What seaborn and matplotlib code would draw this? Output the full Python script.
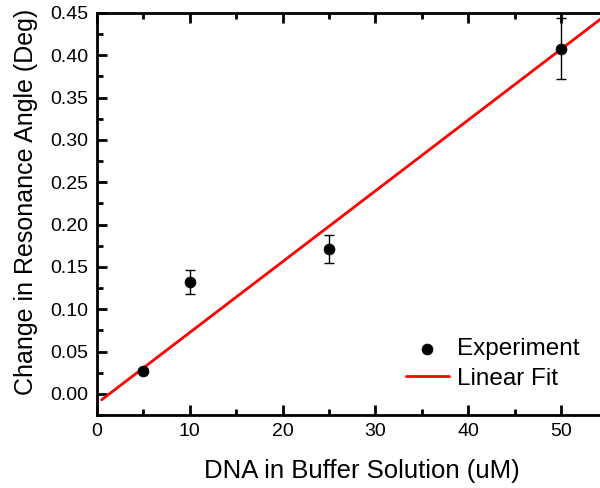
import matplotlib
matplotlib.use("Agg")
import matplotlib.pyplot as plt
import seaborn as sns
from matplotlib.ticker import MultipleLocator, FormatStrFormatter

sns.set_style("ticks", {"axes.edgecolor": "black", "xtick.color": "black",
                        "ytick.color": "black", "text.color": "black",
                        "axes.labelcolor": "black"})
plt.rcParams["font.family"] = ["Liberation Sans", "DejaVu Sans"]

# data
conc = [5, 10, 25, 50]
shift = [0.027, 0.132, 0.171, 0.408]
shift_err = [0.002, 0.014, 0.017, 0.036]
fit_x = [0.5, 55]
fit_y = [-0.007, 0.449]

fig = plt.figure(figsize=(6, 4.88), dpi=100)
ax = fig.add_axes([0.1617, 0.1496, 0.8383, 0.8238])

sns.lineplot(x=fit_x, y=fit_y, ax=ax, color="red", lw=2, label="Linear Fit", zorder=2)
ax.errorbar(conc, shift, yerr=shift_err, fmt="none", ecolor="black", elinewidth=1,
            capsize=3.5, capthick=1, zorder=3)
sns.scatterplot(x=conc, y=shift, ax=ax, color="black", s=60, edgecolor="black",
                label="Experiment", zorder=4)

ax.set_xlim(0, 54.2)
ax.set_ylim(-0.025, 0.45)
ax.xaxis.set_major_locator(MultipleLocator(10))
ax.xaxis.set_minor_locator(MultipleLocator(5))
ax.yaxis.set_major_locator(MultipleLocator(0.05))
ax.yaxis.set_minor_locator(MultipleLocator(0.025))
ax.yaxis.set_major_formatter(FormatStrFormatter("%.2f"))

ax.tick_params(which="both", direction="in", top=True, right=False, width=2,
               labelsize=14, pad=6, colors="black")
ax.tick_params(which="major", length=7)
ax.tick_params(which="minor", length=4)
for side in ["left", "bottom", "top"]:
    ax.spines[side].set_linewidth(2)
    ax.spines[side].set_color("black")
ax.spines["right"].set_visible(False)

ax.set_xlabel("DNA in Buffer Solution (uM)", fontsize=18.5)
ax.set_ylabel("Change in Resonance Angle (Deg)", fontsize=18)
ax.xaxis.set_label_coords(0.526, -0.11)
ax.yaxis.set_label_coords(-0.118, 0.529)

handles, labels = ax.get_legend_handles_labels()
order = [labels.index("Experiment"), labels.index("Linear Fit")]
ax.legend([handles[i] for i in order], [labels[i] for i in order], frameon=False,
          fontsize=17.5, loc="center left", bbox_to_anchor=(0.614, 0.127),
          borderpad=0, borderaxespad=0, handlelength=1.77, handletextpad=0.33,
          labelspacing=0.3)

fig.savefig("out.png", dpi=100)
